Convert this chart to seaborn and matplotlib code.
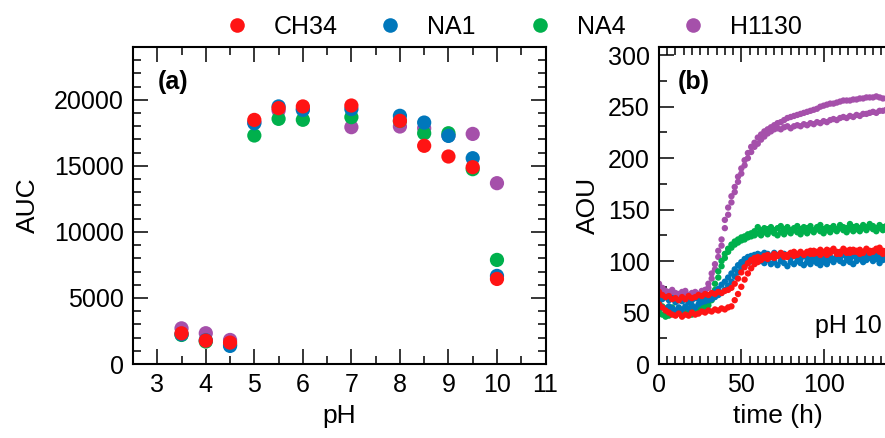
import numpy as np
import pandas as pd
import matplotlib
matplotlib.use("Agg")
import matplotlib.pyplot as plt
from matplotlib.lines import Line2D
from matplotlib.ticker import MultipleLocator
import seaborn as sns

# ---------------- data ----------------
strains = ["CH34", "NA1", "NA4", "H1130"]
colors = {"CH34": "#FF1414", "NA1": "#0077BB", "NA4": "#00B04C", "H1130": "#A550AA"}
draw_order = ["H1130", "NA4", "NA1", "CH34"]

ph = [3.5, 4, 4.5, 5, 5.5, 6, 7, 8, 8.5, 9, 9.5, 10]
auc_CH34 = [2325, 1770, 1620, 18480, 19370, 19500, 19570, 18410, 16520, 15710, 14900, 6440]
auc_NA1 = [2250, 1800, 1370, 18230, 19500, 19240, 19300, 18790, 18280, 17270, 15580, 6670]
auc_NA4 = [2200, 1700, 1450, 17300, 18560, 18490, 18690, 18400, 17470, 17470, 14750, 7880]
auc_H1130 = [2700, 2330, 1820, 18300, 19190, 19300, 17930, 17980, 17850, 17300, 17420, 13690]

time_h = list(range(0, 141, 2))

aou_CH34_r1 = [70, 67, 65, 66, 63, 64, 62, 65, 63, 66, 64, 65, 67, 66, 68,
               67, 69, 68, 70, 69, 71, 72, 74, 78, 83, 89, 94, 98, 101, 103,
               104, 103, 105, 106, 104, 107, 105, 108, 106, 104, 107, 109, 106, 108, 107,
               109, 107, 110, 108, 106, 109, 111, 108, 110, 107, 109, 112, 110, 108, 111,
               109, 111, 108, 112, 110, 109, 111, 113, 110, 108, 111]
aou_CH34_r2 = [58, 55, 52, 50, 48, 47, 49, 46, 48, 47, 50, 48, 49, 51, 50,
               52, 51, 53, 52, 54, 53, 55, 56, 62, 68, 75, 82, 88, 93, 97,
               99, 101, 103, 102, 104, 103, 105, 107, 104, 106, 108, 105, 107, 109, 106,
               108, 110, 107, 109, 111, 108, 106, 110, 112, 109, 107, 110, 108, 111, 109,
               110, 107, 109, 111, 108, 110, 112, 109, 107, 110, 108]
aou_NA1_r1 = [66, 63, 65, 62, 64, 60, 62, 61, 63, 60, 62, 64, 63, 65, 64,
              66, 68, 70, 73, 77, 80, 84, 88, 92, 96, 99, 102, 104, 105, 106,
              107, 106, 108, 107, 105, 108, 106, 104, 107, 105, 103, 106, 104, 102, 105,
              103, 101, 104, 102, 100, 103, 101, 104, 102, 105, 103, 106, 104, 102, 105,
              103, 106, 104, 107, 105, 103, 106, 104, 107, 105, 106]
aou_NA1_r2 = [58, 55, 53, 56, 54, 52, 55, 53, 56, 54, 57, 55, 58, 60, 61,
              62, 63, 65, 67, 69, 72, 76, 80, 85, 89, 93, 96, 98, 100, 101,
              102, 100, 98, 101, 97, 99, 96, 100, 98, 95, 99, 97, 100, 98, 96,
              99, 97, 100, 98, 96, 99, 97, 101, 99, 102, 100, 98, 101, 99, 97,
              100, 102, 99, 101, 103, 100, 102, 98, 101, 103, 100]
aou_NA4_r1 = [60, 56, 54, 52, 55, 50, 53, 51, 54, 52, 55, 53, 56, 55, 57,
              60, 66, 78, 90, 100, 107, 112, 116, 119, 121, 123, 124, 126, 127, 129,
              133, 130, 132, 131, 133, 130, 132, 134, 131, 133, 130, 132, 134, 131, 133,
              132, 134, 130, 133, 135, 131, 133, 132, 134, 131, 135, 133, 132, 136, 133,
              134, 132, 135, 133, 136, 134, 132, 135, 133, 134, 136]
aou_NA4_r2 = [52, 48, 46, 47, 49, 48, 50, 47, 49, 51, 48, 50, 52, 54, 55,
              57, 62, 72, 84, 95, 103, 109, 113, 116, 118, 120, 121, 123, 124, 125,
              127, 125, 128, 126, 129, 127, 125, 128, 126, 129, 127, 130, 128, 126, 129,
              127, 130, 128, 131, 129, 127, 130, 128, 131, 129, 132, 130, 128, 131, 129,
              131, 129, 132, 130, 133, 131, 129, 132, 130, 133, 131]
aou_H1130_r1 = [78, 74, 71, 70, 72, 69, 68, 70, 71, 67, 69, 70, 68, 71, 72,
                78, 88, 97, 110, 121, 140, 152, 163, 172, 182, 190, 198, 205, 211, 215,
                220, 223, 226, 228, 230, 232, 234, 235, 237, 239, 240, 241, 242, 243, 244,
                245, 246, 247, 248, 250, 251, 252, 253, 253, 254, 255, 256, 256, 256, 257,
                257, 258, 258, 259, 259, 259, 260, 259, 258, 258, 257]
aou_H1130_r2 = [74, 71, 69, 68, 70, 67, 66, 68, 69, 66, 67, 68, 67, 69, 70,
                74, 83, 92, 104, 115, 132, 145, 157, 167, 177, 185, 193, 200, 206, 211,
                214, 218, 221, 224, 226, 228, 229, 228, 230, 231, 229, 231, 232, 231, 233,
                232, 234, 233, 235, 234, 236, 235, 237, 238, 237, 239, 240, 239, 241, 240,
                242, 241, 243, 243, 244, 245, 244, 246, 246, 247, 246]

# ---------------- frames ----------------
auc = {"CH34": auc_CH34, "NA1": auc_NA1, "NA4": auc_NA4, "H1130": auc_H1130}
aou = {"CH34": [aou_CH34_r1, aou_CH34_r2], "NA1": [aou_NA1_r1, aou_NA1_r2],
       "NA4": [aou_NA4_r1, aou_NA4_r2], "H1130": [aou_H1130_r1, aou_H1130_r2]}

df_a = pd.concat([pd.DataFrame({"pH": ph, "AUC": auc[s], "strain": s}) for s in draw_order],
                 ignore_index=True)
rows = []
for s in draw_order:
    for rep in aou[s]:
        rows.append(pd.DataFrame({"time": time_h, "AOU": rep, "strain": s}))
df_b = pd.concat(rows, ignore_index=True)

# ---------------- style ----------------
sns.set_style("ticks")
plt.rcParams["font.family"] = ["Liberation Sans", "DejaVu Sans"]
plt.rcParams["font.size"] = 18
plt.rcParams["axes.linewidth"] = 1.5
for k in ("text.color", "axes.labelcolor", "xtick.color", "ytick.color", "axes.edgecolor"):
    plt.rcParams[k] = "black"

fig = plt.figure(figsize=(8.85, 4.38), dpi=100)
ax_a = fig.add_axes([133 / 885, 1 - 364 / 438, 412.5 / 885, 317 / 438])
ax_b = fig.add_axes([659 / 885, 1 - 364 / 438, 238.7 / 885, 317 / 438])

sns.scatterplot(data=df_a, x="pH", y="AUC", hue="strain", palette=colors,
                s=105, linewidth=0, legend=False, ax=ax_a, alpha=1)
sns.scatterplot(data=df_b, x="time", y="AOU", hue="strain", palette=colors,
                s=21, linewidth=0, legend=False, ax=ax_b, alpha=1)

ax_a.set_xlim(2.5, 11)
ax_a.set_ylim(0, 24000)
ax_a.xaxis.set_major_locator(MultipleLocator(1))
ax_a.xaxis.set_minor_locator(MultipleLocator(0.5))
ax_a.set_yticks([0, 5000, 10000, 15000, 20000])
ax_a.yaxis.set_minor_locator(MultipleLocator(1000))
ax_a.set_xlabel("pH", fontsize=19, labelpad=5)
ax_a.set_ylabel("AUC", fontsize=19, labelpad=10)
ax_a.text(0.06, 0.89, "(a)", transform=ax_a.transAxes, fontsize=18,
          fontweight="bold", ha="left", va="center")

ax_b.set_xlim(0, 145)
ax_b.set_ylim(0, 308)
ax_b.set_xticks([0, 50, 100])
ax_b.xaxis.set_minor_locator(MultipleLocator(5))
ax_b.set_yticks([0, 50, 100, 150, 200, 250, 300])
ax_b.yaxis.set_minor_locator(MultipleLocator(25))
ax_b.set_xlabel("time (h)", fontsize=19, labelpad=5)
ax_b.set_ylabel("AOU", fontsize=19, labelpad=6)
ax_b.text(0.08, 0.89, "(b)", transform=ax_b.transAxes, fontsize=18,
          fontweight="bold", ha="left", va="center")
ax_b.text(95, 30, "pH 10", fontsize=18, ha="left", va="baseline")

for ax in (ax_a, ax_b):
    ax.tick_params(which="both", direction="in", top=True, right=True,
                   labelsize=18, width=1.1, pad=6.5)
    ax.tick_params(which="major", length=11)
    ax.tick_params(which="minor", length=5.5)
    for sp in ax.spines.values():
        sp.set_linewidth(1.5)
        sp.set_visible(True)
ax_b.tick_params(which="both", right=False)

# legend: one entry per strain, placed along the top
dot_px = {"CH34": 237, "NA1": 390, "NA4": 540, "H1130": 693}
for s in strains:
    h = Line2D([], [], marker="o", linestyle="", markersize=10.5,
               markerfacecolor=colors[s], markeredgewidth=0, label=s)
    fig.legend(handles=[h], loc="center left",
               bbox_to_anchor=((dot_px[s] - 12.5) / 885, 1 - 27 / 438),
               frameon=False, fontsize=18, handlelength=1.0, handletextpad=0.98,
               borderpad=0, borderaxespad=0)

fig.savefig("out.png", dpi=100)
